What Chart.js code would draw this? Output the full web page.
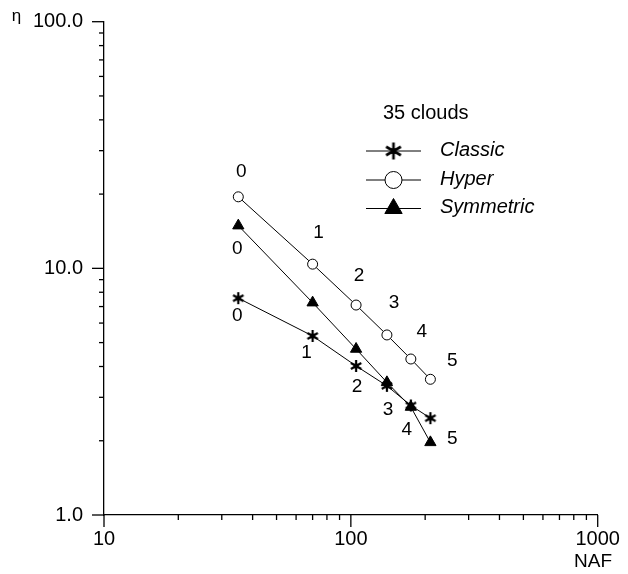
<!DOCTYPE html>
<html><head><meta charset="utf-8">
<script src="https://cdn.jsdelivr.net/npm/chart.js@4/dist/chart.umd.min.js"></script>
<style>html,body{margin:0;padding:0;background:#fff}#wrap{width:628px;height:574px}</style>
</head><body><div id="wrap"><canvas id="c" width="628" height="574"></canvas></div>
<script>
// ---- data ----
const naf = [35, 70, 105, 140, 175, 210];
const classic = [7.57, 5.32, 4.02, 3.34, 2.78, 2.47];
const hyper = [19.5, 10.4, 7.1, 5.37, 4.29, 3.55];
const symmetric = [14.9, 7.26, 4.71, 3.45, 2.74, 1.97];
const classicLabels = ['0', '1', '2', '3', '4', ''];
const hyperLabels = ['0', '1', '2', '3', '4', '5'];
const symmetricLabels = ['0', '', '', '', '', '5'];
const xTickLabels = [10, 100, 1000];
const yTickLabels = [1, 10, 100];
const seriesNames = ['Classic', 'Hyper', 'Symmetric'];
const legendTitle = '35 clouds';
const xTitle = 'NAF';
const yTitle = 'η';

// ---- styles ----
const FONT = '"Liberation Sans", Arial, sans-serif';
const classicOffsets = [[-1, 18], [-6, 17], [1, 21], [1, 24], [-4, 24], [0, 0]];
const hyperOffsets = [[3, -25], [6, -31], [3, -29], [7, -32], [11, -27], [22, -19]];
const symmetricOffsets = [[-1, 23], [0, 0], [0, 0], [0, 0], [0, 0], [22, -4]];

function makeStar(size, r, lw) {
  const c = document.createElement('canvas');
  c.width = size; c.height = size;
  const g = c.getContext('2d');
  g.strokeStyle = '#000'; g.lineWidth = lw; g.lineCap = 'butt';
  const cx = size / 2, cy = size / 2;
  for (let k = 0; k < 3; k++) {
    const a = k * Math.PI / 3;
    g.beginPath();
    g.moveTo(cx + Math.sin(a) * r, cy - Math.cos(a) * r);
    g.lineTo(cx - Math.sin(a) * r, cy + Math.cos(a) * r);
    g.stroke();
  }
  g.fillStyle = '#000';
  g.beginPath(); g.arc(cx, cy, lw * 1.2, 0, Math.PI * 2); g.fill();
  return c;
}
const starSmall = makeStar(14, 6, 2.2);
const starBig = makeStar(20, 8.5, 2.6);

function pts(ys) { return naf.map((x, i) => ({ x: x, y: ys[i] })); }

const datasets = [
  { label: seriesNames[0], data: pts(classic), showLine: true, borderColor: '#000', borderWidth: 1,
    pointStyle: starSmall, pointRadius: 6, pointBackgroundColor: '#000', pointBorderColor: '#000',
    labels: classicLabels, offsets: classicOffsets, legendStyle: starBig, legendRadius: 9, legendFill: '#000' },
  { label: seriesNames[1], data: pts(hyper), showLine: true, borderColor: '#000', borderWidth: 1,
    pointStyle: 'circle', pointRadius: 5, pointBackgroundColor: '#fff', pointBorderColor: '#000', pointBorderWidth: 1,
    labels: hyperLabels, offsets: hyperOffsets, legendStyle: 'circle', legendRadius: 8.5, legendFill: '#fff' },
  { label: seriesNames[2], data: pts(symmetric), showLine: true, borderColor: '#000', borderWidth: 1,
    pointStyle: 'triangle', pointRadius: 6.5, pointBackgroundColor: '#000', pointBorderColor: '#000', pointBorderWidth: 1,
    labels: symmetricLabels, offsets: symmetricOffsets, legendStyle: 'triangle', legendRadius: 10, legendFill: '#000' }
];

const near = (v, list) => list.some(t => Math.abs(v - t) < 1e-6 * t);

const decorations = {
  id: 'decorations',
  afterDraw(chart) {
    const ctx = chart.ctx, xs = chart.scales.x, ys = chart.scales.y, ca = chart.chartArea;
    ctx.save();
    ctx.strokeStyle = '#000'; ctx.lineWidth = 1.3;
    // y-axis tick marks
    for (let d = 0; d <= 2; d++) for (let m = 1; m <= 9; m++) {
      const v = m * Math.pow(10, d); if (v > 100) break;
      const y = ys.getPixelForValue(v), len = m === 1 ? 12 : 5;
      ctx.beginPath(); ctx.moveTo(ca.left - len, y); ctx.lineTo(ca.left, y); ctx.stroke();
    }
    // x-axis tick marks
    for (let d = 1; d <= 3; d++) for (let m = 1; m <= 9; m++) {
      const v = m * Math.pow(10, d); if (v > 1000) break;
      const x = xs.getPixelForValue(v), len = m === 1 ? 12 : 5;
      ctx.beginPath(); ctx.moveTo(x, ca.bottom); ctx.lineTo(x, ca.bottom + len); ctx.stroke();
    }
    // axis titles
    ctx.fillStyle = '#000';
    ctx.textBaseline = 'middle'; ctx.textAlign = 'center';
    ctx.font = '19px ' + FONT;
    ctx.fillText(xTitle, 593, 562);
    ctx.font = '17px ' + FONT;
    ctx.fillText(yTitle, 16.5, 16);
    // point labels
    ctx.font = '19px ' + FONT;
    chart.data.datasets.forEach((ds, di) => {
      const meta = chart.getDatasetMeta(di);
      meta.data.forEach((el, i) => {
        const t = ds.labels[i]; if (!t) return;
        ctx.fillText(t, el.x + ds.offsets[i][0], el.y + ds.offsets[i][1]);
      });
    });
    // legend
    ctx.textAlign = 'left';
    ctx.font = '20px ' + FONT;
    ctx.fillText(legendTitle, 383, 113);
    const rowY = [151, 180, 208.5];
    ctx.font = 'italic 20px ' + FONT;
    chart.data.datasets.forEach((ds, di) => {
      const y = rowY[di];
      ctx.strokeStyle = '#000'; ctx.lineWidth = 1;
      ctx.beginPath(); ctx.moveTo(366, y); ctx.lineTo(421, y); ctx.stroke();
      ctx.fillStyle = ds.legendFill; ctx.strokeStyle = '#000'; ctx.lineWidth = 1;
      Chart.helpers.drawPoint(ctx, { pointStyle: ds.legendStyle, radius: ds.legendRadius, rotation: 0, borderWidth: 1 }, 393.5, y);
      ctx.fillStyle = '#000';
      ctx.fillText(ds.label, 440, y - 1);
    });
    ctx.restore();
  }
};

new Chart(document.getElementById('c'), {
  type: 'scatter',
  data: { datasets: datasets },
  options: {
    responsive: false, animation: false, clip: false,
    layout: { padding: { left: 0, top: 21.7, right: 30.3, bottom: 0 } },
    plugins: { legend: { display: false }, tooltip: { enabled: false } },
    scales: {
      x: {
        type: 'logarithmic', position: 'bottom', min: 10, max: 1000,
        grid: { display: false, drawTicks: false },
        border: { display: true, color: '#000', width: 1.3 },
        ticks: { autoSkip: false, maxRotation: 0, color: '#000', padding: 12,
          font: { family: FONT, size: 20 },
          callback: v => near(v, xTickLabels) ? String(Math.round(v)) : null },
        afterFit: s => { s.height = 59; s.paddingLeft = 0; s.paddingRight = 0; }
      },
      y: {
        type: 'logarithmic', position: 'left', min: 1, max: 100,
        grid: { display: false, drawTicks: false },
        border: { display: true, color: '#000', width: 1.3 },
        ticks: { autoSkip: false, color: '#000', padding: 21,
          font: { family: FONT, size: 20 },
          callback: v => near(v, yTickLabels) ? Number(v).toFixed(1) : null },
        afterFit: s => { s.width = 104; s.paddingTop = 0; s.paddingBottom = 0; }
      }
    }
  },
  plugins: [decorations]
});
</script></body></html>
